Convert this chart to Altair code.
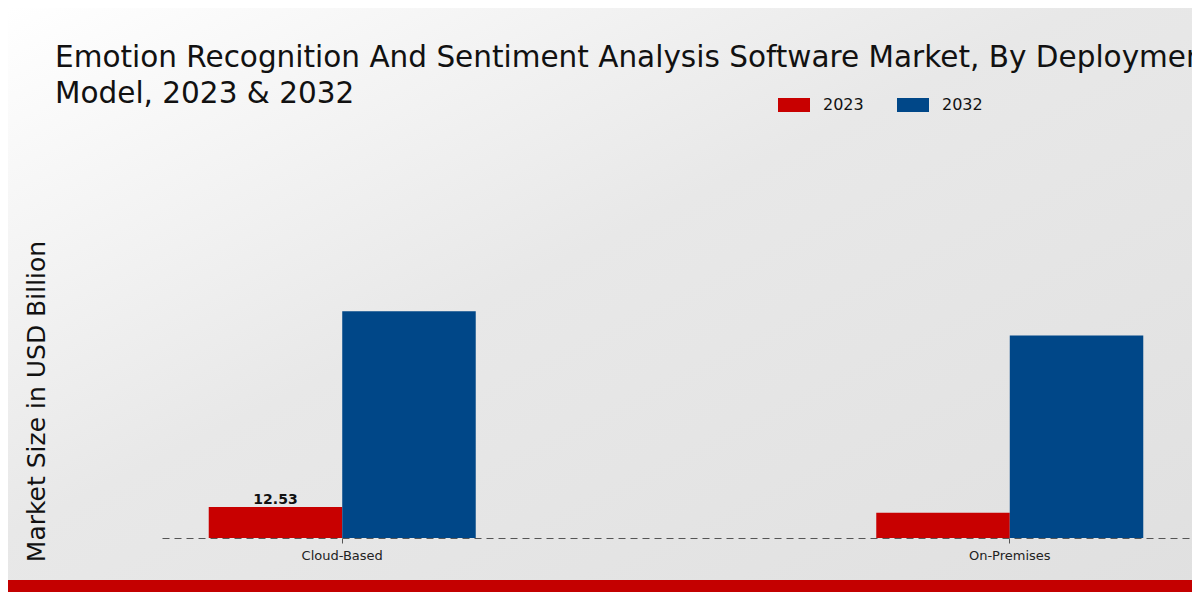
import altair as alt
import pandas as pd

categories = ["Cloud-Based", "On-Premises"]
years = ["2023", "2032"]
values_2023 = [12.53, 10.2]
values_2032 = [91.6, 81.8]
bar_labels_2023 = ["12.53", ""]
title_lines = ["Emotion Recognition And Sentiment Analysis Software Market, By Deployment",
               "Model, 2023 & 2032"]

rows = []
for i, c in enumerate(categories):
    rows.append({"category": c, "year": "2023", "value": values_2023[i], "label": bar_labels_2023[i]})
    rows.append({"category": c, "year": "2032", "value": values_2032[i], "label": ""})
df = pd.DataFrame(rows)

FONT = "DejaVu Sans"
RED = "#c80000"
BLUE = "#004788"

x_enc = alt.X("category:N", sort=categories,
              scale=alt.Scale(paddingInner=0.6, paddingOuter=0.07),
              axis=alt.Axis(title=None, labelAngle=0, labelFont=FONT, labelFontSize=13,
                            labelColor="#222222", labelPadding=6, zindex=1,
                            domainDash=[7, 5], domainColor="#555555", domainWidth=1.2,
                            tickColor="#555555", tickSize=5, grid=False))
xoff = alt.XOffset("year:N", sort=years, scale=alt.Scale(paddingInner=0, paddingOuter=0))

one = pd.DataFrame({"a": [0]})

bg = alt.Chart(one).mark_rect(
    fill=alt.LinearGradient(gradient="linear",
                            stops=[alt.GradientStop(color="#ffffff", offset=0),
                                   alt.GradientStop(color="#e8e8e8", offset=0.45),
                                   alt.GradientStop(color="#e0e0e0", offset=1)],
                            x1=0, y1=0, x2=1, y2=1)
).encode(x=alt.value(-154), x2=alt.value(1030), y=alt.value(-134), y2=alt.value(450))

strip = alt.Chart(one).mark_rect(fill="#c40000").encode(
    x=alt.value(-154), x2=alt.value(1030), y=alt.value(438), y2=alt.value(450))

title1 = alt.Chart(pd.DataFrame({"t": [title_lines[0]]})).mark_text(
    font=FONT, fontSize=29.5, color="#111111", align="left", baseline="alphabetic"
).encode(x=alt.value(-107), y=alt.value(-75), text="t:N")
title2 = alt.Chart(pd.DataFrame({"t": [title_lines[1]]})).mark_text(
    font=FONT, fontSize=29.5, color="#111111", align="left", baseline="alphabetic"
).encode(x=alt.value(-107), y=alt.value(-39), text="t:N")

bars = alt.Chart(df).mark_bar(size=133.5).encode(
    x=x_enc,
    xOffset=xoff,
    y=alt.Y("value:Q", scale=alt.Scale(domain=[0, 160], nice=False),
            axis=alt.Axis(title="Market Size in USD Billion", labels=False, ticks=False,
                          domain=False, grid=False, titleFont=FONT, titleFontSize=25,
                          titleFontWeight="normal", titleColor="#111111", zindex=1,
                          titleX=-118, titleY=259, titleAngle=-90,
                          titleBaseline="alphabetic", titleAlign="center")),
    color=alt.Color("year:N", sort=years,
                    scale=alt.Scale(domain=years, range=[RED, BLUE]),
                    legend=alt.Legend(orient="none", legendX=616, legendY=-53,
                                      direction="horizontal", title=None,
                                      symbolType="M-1,-0.4375L1,-0.4375L1,0.4375L-1,0.4375Z",
                                      symbolSize=1024, symbolStrokeWidth=0,
                                      labelFont=FONT, labelFontSize=16, labelColor="#111111",
                                      labelOffset=13, columnPadding=33)),
)

text = alt.Chart(df).transform_filter("datum.label != ''").mark_text(
    font=FONT, fontSize=14, fontWeight="bold", color="#111111", dy=-3, baseline="alphabetic"
).encode(x=alt.X("category:N", sort=categories), xOffset=alt.XOffset("year:N", sort=years),
         y=alt.Y("value:Q"), text="label:N")

chart = alt.layer(bg, strip, title1, title2, bars, text).properties(
    width=1028, height=396,
    padding={"left": 154, "top": 134, "right": 2, "bottom": 54},
    autosize=alt.AutoSizeParams(type="none"),
).configure_view(stroke=None).configure(background="#ffffff")

chart.save("out.html", embed_options={"renderer": "svg", "actions": False})
